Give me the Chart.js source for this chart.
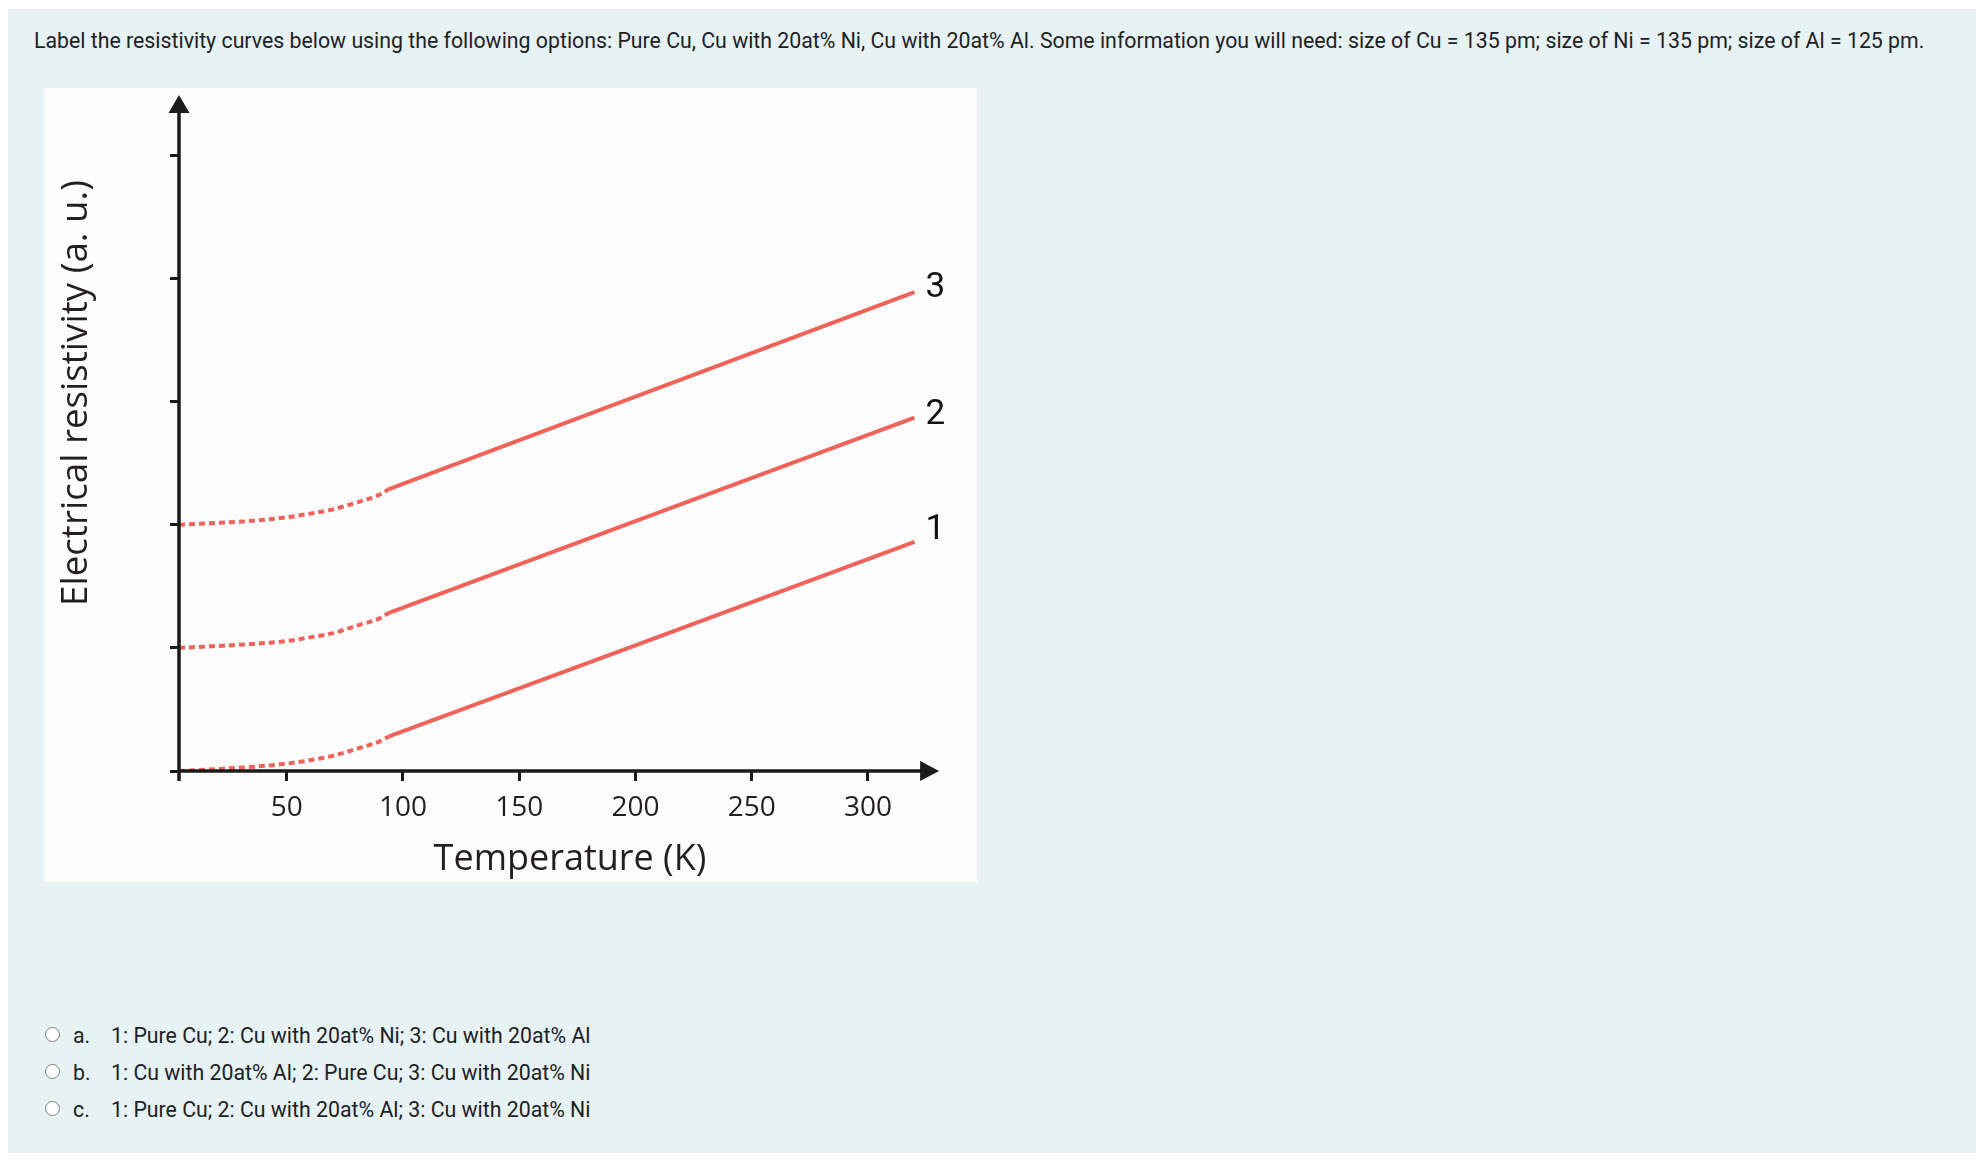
<!DOCTYPE html>
<html>
<head>
<meta charset="utf-8">
<script src="https://cdn.jsdelivr.net/npm/chart.js@4.4.1/dist/chart.umd.min.js"></script>
<style>
html,body{margin:0;padding:0;background:#fff;width:1976px;height:1160px;overflow:hidden;}
#bg{position:absolute;left:8px;top:9px;width:1968px;height:1144px;background:#e7f2f4;}
.q{position:absolute;left:34px;top:28px;font:21.3px/25px Roboto,sans-serif;color:#1d2125;white-space:nowrap;}
#panel{position:absolute;left:44px;top:88px;width:933px;height:794px;background:#fdfdfd;}
.opt{position:absolute;font:21.3px/25px Roboto,sans-serif;color:#1d2125;white-space:nowrap;}
.radio{position:absolute;left:45px;width:15px;height:15px;border:1.5px solid #7d7d7d;border-radius:50%;box-sizing:border-box;background:#fff;}
</style>
</head>
<body>
<div id="bg"></div>
<div class="q">Label the resistivity curves below using the following options: Pure Cu, Cu with 20at% Ni, Cu with 20at% Al. Some information you will need: size of Cu = 135 pm; size of Ni = 135 pm; size of Al = 125 pm.</div>
<div id="panel"><canvas id="c"></canvas></div>

<span class="radio" style="top:1027px"></span>
<div class="opt" style="left:73px;top:1023px">a.</div>
<div class="opt" style="left:111px;top:1023px">1: Pure Cu; 2: Cu with 20at% Ni; 3: Cu with 20at% Al</div>
<span class="radio" style="top:1064px"></span>
<div class="opt" style="left:73px;top:1060px">b.</div>
<div class="opt" style="left:111px;top:1060px">1: Cu with 20at% Al; 2: Pure Cu; 3: Cu with 20at% Ni</div>
<span class="radio" style="top:1101px"></span>
<div class="opt" style="left:73px;top:1097px">c.</div>
<div class="opt" style="left:111px;top:1097px">1: Pure Cu; 2: Cu with 20at% Al; 3: Cu with 20at% Ni</div>

<script>
// ---------- data ----------
const temperatureK = [3.7, 20, 34, 50, 60, 70, 80, 90, 94, 200, 320];
const curve1 = [0.00, 0.016, 0.032, 0.060, 0.087, 0.124, 0.179, 0.241, 0.281, 1.02, 1.86];
const curve2 = [1.00, 1.015, 1.030, 1.055, 1.085, 1.120, 1.180, 1.240, 1.285, 2.03, 2.87];
const curve3 = [2.00, 2.015, 2.030, 2.060, 2.090, 2.125, 2.180, 2.245, 2.290, 3.04, 3.89];
const curveLabels = ['1', '2', '3'];
const dashedUntilK = 94;            // below this temperature the curves are dashed (extrapolated)
const xTicks = [50, 100, 150, 200, 250, 300];
const yTicks = [0, 1, 2, 3, 4, 5];
const xAxisStart = 3.7, xArrowEnd = 330.6, xScaleMax = 340;
const yArrowEnd = 5.49;
const xTitle = 'Temperature (K)';
const yTitle = 'Electrical resistivity (a. u.)';

// ---------- style ----------
const RED = '#f0625a';
const INK = '#1b1b1b';
const labelLift = [12, 2, 4];

const toPts = (arr, keep) => arr.map((v, i) => ({x: temperatureK[i], y: v})).filter(p => keep(p.x));
const dashedSet = arr => ({
  data: toPts(arr, t => t <= dashedUntilK),
  borderColor: RED, borderWidth: 4, pointRadius: 0, fill: false,
  cubicInterpolationMode: 'monotone', borderCapStyle: 'butt', borderDash: [6, 4]
});
const solidSet = (arr, label) => ({
  label,
  data: toPts(arr, t => t >= dashedUntilK),
  borderColor: RED, borderWidth: 4, pointRadius: 0, fill: false,
  tension: 0, borderCapStyle: 'butt'
});
const curves = [curve1, curve2, curve3];
const datasets = [];
curves.forEach((c, i) => { datasets.push(dashedSet(c)); datasets.push(solidSet(c, curveLabels[i])); });

const overlay = {
  id: 'overlay',
  afterDatasetsDraw(chart) {
    const {ctx, scales: {x, y}} = chart;
    const x0 = x.getPixelForValue(xAxisStart);
    const y0 = y.getPixelForValue(0);
    const xTip = x.getPixelForValue(xArrowEnd);
    const yTip = y.getPixelForValue(yArrowEnd);
    ctx.save();
    // curve labels at the end of each solid curve
    ctx.fillStyle = '#111';
    ctx.font = '35px Roboto, sans-serif';
    ctx.textAlign = 'left';
    ctx.textBaseline = 'middle';
    let k = 0;
    chart.data.datasets.forEach((ds, i) => {
      if (!ds.label) return;
      const meta = chart.getDatasetMeta(i);
      const p = meta.data[meta.data.length - 1];
      ctx.fillText(ds.label, p.x + 11, p.y - labelLift[k]);
      k++;
    });
    // axes with arrows
    ctx.strokeStyle = INK;
    ctx.fillStyle = INK;
    ctx.lineWidth = 3.5;
    ctx.beginPath();
    ctx.moveTo(x0, y0 + 10); ctx.lineTo(x0, yTip + 12);
    ctx.moveTo(x0, y0); ctx.lineTo(xTip - 12, y0);
    ctx.stroke();
    ctx.beginPath();
    ctx.moveTo(x0, yTip); ctx.lineTo(x0 - 10.5, yTip + 18); ctx.lineTo(x0 + 10.5, yTip + 18);
    ctx.closePath(); ctx.fill();
    ctx.beginPath();
    ctx.moveTo(xTip, y0); ctx.lineTo(xTip - 19, y0 - 10); ctx.lineTo(xTip - 19, y0 + 10);
    ctx.closePath(); ctx.fill();
    // y-axis title
    ctx.fillStyle = '#231f20';
    ctx.font = '36.7px "Open Sans", sans-serif';
    ctx.textAlign = 'center';
    ctx.textBaseline = 'alphabetic';
    ctx.translate(43, 305);
    ctx.rotate(-Math.PI / 2);
    ctx.fillText(yTitle, 0, 0);
    ctx.restore();
  }
};

new Chart(document.getElementById('c'), {
  type: 'line',
  data: { datasets },
  options: {
    responsive: true,
    maintainAspectRatio: false,
    animation: false,
    devicePixelRatio: 1,
    layout: { padding: { top: 7, right: 16, bottom: 0, left: 0 } },
    plugins: { legend: { display: false }, tooltip: { enabled: false } },
    scales: {
      x: {
        type: 'linear',
        position: 'bottom',
        min: xAxisStart,
        max: xScaleMax,
        afterBuildTicks: s => { s.ticks = xTicks.map(v => ({value: v})); },
        afterFit: s => { s.height = 111; },
        border: { display: false },
        grid: { display: true, drawOnChartArea: false, drawTicks: true, tickLength: 10, tickWidth: 3, tickColor: INK },
        ticks: { font: { family: 'Open Sans', size: 28 }, color: '#231f20', padding: 10, maxRotation: 0 },
        title: { display: true, text: xTitle, font: { family: 'Open Sans', size: 36 }, color: '#231f20', padding: { top: 0, bottom: 1 } }
      },
      y: {
        type: 'linear',
        min: 0,
        max: yArrowEnd,
        afterBuildTicks: s => { s.ticks = yTicks.map(v => ({value: v})); },
        afterFit: s => { s.width = 135; },
        border: { display: false },
        grid: { display: true, drawOnChartArea: false, drawTicks: true, tickLength: 9, tickWidth: 3, tickColor: INK },
        ticks: { display: false }
      }
    }
  },
  plugins: [overlay]
});
</script>
</body>
</html>
